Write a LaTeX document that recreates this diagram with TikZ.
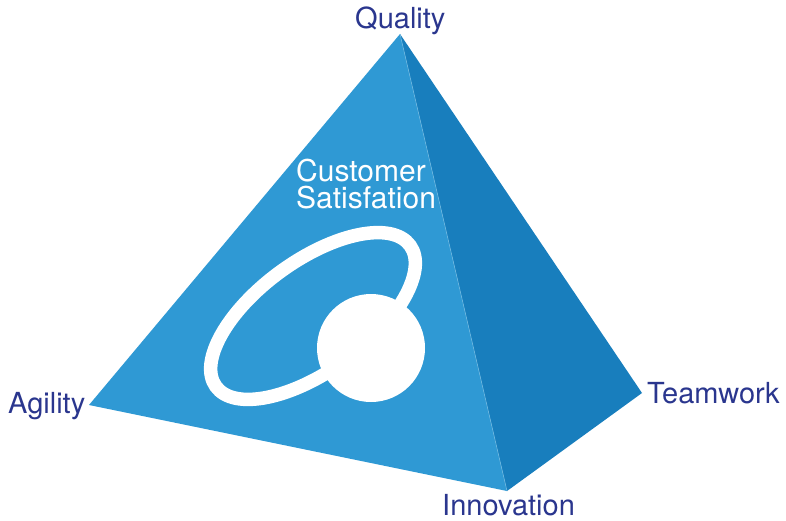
\documentclass[tikz,border=0pt]{standalone}
\usepackage{fontspec}
\setmainfont{TeX Gyre Heros}
\definecolor{frontblue}{RGB}{47,153,212}
\definecolor{sideblue}{RGB}{24,126,189}
\definecolor{labelnavy}{RGB}{42,54,142}

\begin{document}
\begin{tikzpicture}[x=1pt,y=-1pt,
  corner/.style={text=labelnavy,inner sep=0pt,anchor=base west,
                 font=\fontsize{29}{29}\selectfont},
]
\useasboundingbox (0,0) rectangle (786,520);

%% pyramid
\coordinate (apex) at (400,34);
\coordinate (agil) at (89,405);
\coordinate (innov) at (507,491);
\coordinate (team) at (642,393);
\fill[frontblue] (apex) -- (agil) -- (innov) -- cycle;
\fill[sideblue] (apex) -- (innov) -- (team) -- cycle;
\draw[frontblue!70!white, line width=0.6pt] (apex) -- (innov);

%% orbit and ball
\draw[white, line width=13.5pt] (313,316) ellipse [x radius=120pt, y radius=55pt, rotate=36];
\fill[white] (371,348) circle[radius=54pt];
\node[text=white, inner sep=0pt, anchor=base west, align=left,
      font=\fontsize{30}{27}\selectfont] (satisf) at (296,208) {Customer\\Satisfation};

%% corner labels
\node[corner] (quality) at (355,28) {Quality};
\node[corner] (agility) at (8,413) {Agility};
\node[corner] (teamwork) at (647,403) {Teamwork};
\node[corner] (innovation) at (442,515) {Innovation};

\end{tikzpicture}
\end{document}
